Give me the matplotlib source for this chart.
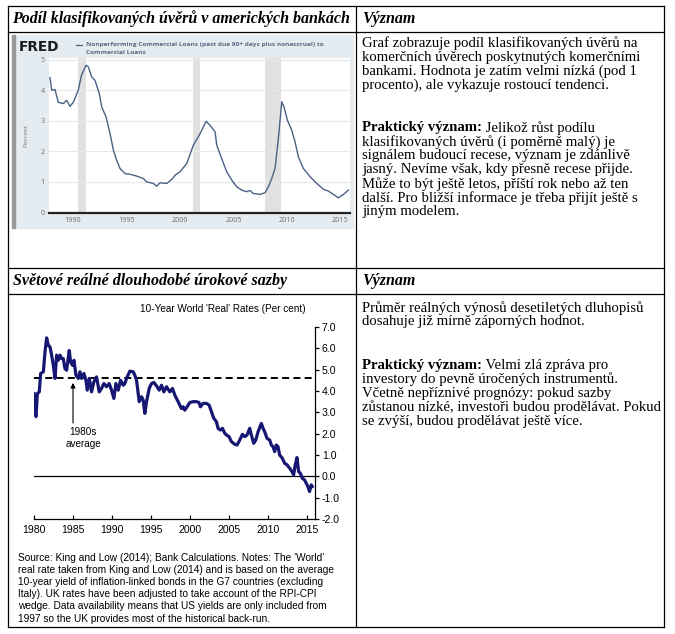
import matplotlib
matplotlib.use("Agg")
import matplotlib.pyplot as plt
from matplotlib.patches import Rectangle

# --- FRED panel: nonperforming commercial loans, percent ---
npl_year = [1987.84, 1988.0, 1988.31, 1988.62, 1989.09, 1989.4, 1989.71, 1990.02,
            1990.49, 1990.8, 1991.21, 1991.43, 1991.74, 1992.05, 1992.45, 1992.68,
            1993.08, 1993.46, 1993.77, 1994.08, 1994.39, 1994.86, 1995.33, 1995.95,
            1996.57, 1996.89, 1997.51, 1997.82, 1998.13, 1998.76, 1999.23, 1999.54,
            2000.0, 2000.63, 2001.25, 2001.88, 2002.44, 2002.81, 2003.28, 2003.44,
            2003.9, 2004.37, 2004.84, 2005.31, 2005.78, 2006.24, 2006.55, 2006.86,
            2007.49, 2007.96, 2008.27, 2008.58, 2008.89, 2009.2, 2009.52, 2009.73,
            2010.04, 2010.45, 2010.76, 2011.07, 2011.54, 2012.17, 2012.79, 2013.42,
            2013.88, 2014.35, 2014.81, 2015.28, 2015.75]
npl_pct = [4.41, 4.0, 4.02, 3.6, 3.56, 3.67, 3.47, 3.6,
           4.0, 4.5, 4.81, 4.76, 4.43, 4.32, 3.89, 3.45,
           3.13, 2.58, 2.04, 1.71, 1.44, 1.27, 1.25, 1.19,
           1.11, 1.0, 0.95, 0.86, 0.97, 0.95, 1.08, 1.22,
           1.33, 1.6, 2.2, 2.58, 2.98, 2.85, 2.64, 2.2,
           1.76, 1.33, 1.06, 0.84, 0.73, 0.68, 0.72, 0.62,
           0.59, 0.65, 0.84, 1.11, 1.44, 2.42, 3.62, 3.45,
           3.02, 2.69, 2.31, 1.82, 1.44, 1.17, 0.95, 0.76,
           0.70, 0.59, 0.48, 0.59, 0.73]
recessions = [(1990.5, 1991.2), (2001.2, 2001.85), (2007.95, 2009.45)]
npl_xticks = [1990, 1995, 2000, 2005, 2010, 2015]
npl_yticks = [0, 1, 2, 3, 4, 5]

# --- 10-year world real rates, per cent ---
rate_year = [1980.0, 1980.13, 1980.26, 1980.43, 1980.68, 1980.85, 1981.2, 1981.41,
             1981.62, 1981.84, 1982.05, 1982.26, 1982.48, 1982.69, 1982.9, 1983.11,
             1983.33, 1983.54, 1983.75, 1983.97, 1984.18, 1984.52, 1984.69, 1984.95,
             1985.12, 1985.38, 1985.68, 1985.89, 1986.1, 1986.4, 1986.66, 1986.83,
             1987.09, 1987.38, 1987.68, 1988.02, 1988.36, 1988.66, 1988.96, 1989.3,
             1989.64, 1989.94, 1990.24, 1990.5, 1990.8, 1991.1, 1991.44, 1991.65,
             1991.87, 1992.29, 1992.72, 1992.93, 1993.15, 1993.49, 1993.79, 1994.0,
             1994.21, 1994.43, 1994.77, 1995.07, 1995.37, 1995.71, 1996.05, 1996.35,
             1996.65, 1996.99, 1997.42, 1997.76, 1998.05, 1998.48, 1998.9, 1999.12,
             1999.33, 1999.63, 1999.97, 2000.4, 2000.83, 2001.17, 2001.34, 2001.68,
             2002.11, 2002.45, 2002.75, 2003.05, 2003.39, 2003.6, 2003.9, 2004.16,
             2004.46, 2004.67, 2005.01, 2005.31, 2005.74, 2006.04, 2006.38, 2006.72,
             2007.02, 2007.32, 2007.66, 2007.87, 2008.17, 2008.43, 2008.73, 2009.15,
             2009.37, 2009.58, 2009.88, 2010.22, 2010.43, 2010.65, 2010.86, 2011.07,
             2011.29, 2011.5, 2011.84, 2012.14, 2012.44, 2012.78, 2013.08, 2013.29,
             2013.5, 2013.72, 2013.93, 2014.14, 2014.4, 2014.7, 2014.91, 2015.12,
             2015.33, 2015.55, 2015.67]
rate_pct = [3.88, 3.03, 2.8, 3.88, 3.96, 4.82, 4.9, 5.83,
            6.49, 6.14, 6.07, 5.68, 5.2, 4.59, 5.68, 5.44,
            5.68, 5.52, 5.52, 5.05, 4.97, 5.9, 5.36, 5.2,
            5.44, 4.74, 4.59, 4.9, 4.59, 4.82, 4.5, 4.04,
            4.59, 3.96, 4.43, 4.66, 3.96, 4.12, 4.35, 4.2,
            4.35, 4.04, 3.65, 4.35, 4.04, 4.5, 4.27, 4.35,
            4.59, 4.93, 4.9, 4.74, 4.5, 3.5, 3.73, 3.57,
            2.95, 3.5, 4.12, 4.35, 4.4, 4.24, 4.04, 4.27,
            3.96, 4.2, 3.96, 4.12, 3.81, 3.5, 3.18, 3.26,
            3.1, 3.26, 3.46, 3.5, 3.5, 3.46, 3.26, 3.42,
            3.42, 3.34, 3.03, 2.72, 2.56, 2.25, 2.17, 2.25,
            2.02, 1.94, 1.86, 1.63, 1.5, 1.47, 1.7, 1.97,
            1.86, 1.94, 2.25, 1.94, 1.55, 1.7, 2.09, 2.48,
            2.25, 2.09, 1.78, 1.7, 1.47, 1.39, 1.16, 1.47,
            1.39, 1.0, 0.85, 0.61, 0.54, 0.38, 0.22, 0.07,
            0.54, 0.88, 0.22, 0.15, -0.09, -0.17, -0.32, -0.48,
            -0.71, -0.4, -0.48]
avg_1980s = 4.6
rate_xticks = [1980, 1985, 1990, 1995, 2000, 2005, 2010, 2015]
rate_yticks = [-2, -1, 0, 1, 2, 3, 4, 5, 6, 7]

# --- table texts ---
head_left_1 = "Podíl klasifikovaných úvěrů v amerických bankách"
head_left_2 = "Světové reálné dlouhodobé úrokové sazby"
head_right = "Význam"
bold_prefix = "Praktický význam:"
text_1a = ["Graf zobrazuje podíl klasifikovaných úvěrů na",
           "komerčních úvěrech poskytnutých komerčními",
           "bankami. Hodnota je zatím velmi nízká (pod 1",
           "procento), ale vykazuje rostoucí tendenci."]
text_1b = [" Jelikož růst podílu",
           "klasifikovaných úvěrů (i poměrně malý) je",
           "signálem budoucí recese, význam je zdánlivě",
           "jasný. Nevíme však, kdy přesně recese přijde.",
           "Může to být ještě letos, příští rok nebo až ten",
           "další. Pro bližší informace je třeba přijít ještě s",
           "jiným modelem."]
text_2a = ["Průměr reálných výnosů desetiletých dluhopisů",
           "dosahuje již mírně záporných hodnot."]
text_2b = [" Velmi zlá zpráva pro",
           "investory do pevně úročených instrumentů.",
           "Včetně nepříznivé prognózy: pokud sazby",
           "zůstanou nízké, investoři budou prodělávat. Pokud",
           "se zvýší, budou prodělávat ještě více."]
note_lines = ["Source: King and Low (2014); Bank Calculations. Notes: The 'World'",
              "real rate taken from King and Low (2014) and is based on the average",
              "10-year yield of inflation-linked bonds in the G7 countries (excluding",
              "Italy). UK rates have been adjusted to take account of the RPI-CPI",
              "wedge. Data availability means that US yields are only included from",
              "1997 so the UK provides most of the historical back-run."]

W, H = 675, 634
SERIF = "Liberation Serif"
SANS = "Liberation Sans"

fig = plt.figure(figsize=(W / 100, H / 100), dpi=100)
fig.patch.set_facecolor("white")

# page layer in pixel coordinates
page = fig.add_axes([0, 0, 1, 1], zorder=0)
page.set_xlim(0, W)
page.set_ylim(H, 0)
page.axis("off")

# table grid
x0, xm, x1 = 8, 356, 664
for y in [6, 32, 268, 294, 627]:
    page.plot([x0, x1], [y, y], color="black", lw=0.9, solid_capstyle="projecting")
for x in [x0, xm, x1]:
    page.plot([x, x], [6, 627], color="black", lw=0.9, solid_capstyle="projecting")

hdr = dict(family=SERIF, fontsize=11.5, weight="bold", style="italic", va="center")
page.text(12, 19, head_left_1, **hdr)
page.text(362, 19, head_right, **hdr)
page.text(13, 281, head_left_2, **hdr)
page.text(362, 281, head_right, **hdr)

renderer = fig.canvas.get_renderer()
body = dict(family=SERIF, fontsize=10.6, va="center")


def write_block(lines_a, lines_b, y_a, y_b, step=14):
    for i, line in enumerate(lines_a):
        page.text(362, y_a + step * i, line, **body)
    t = page.text(362, y_b, bold_prefix, weight="bold", **body)
    w = t.get_window_extent(renderer).width
    page.text(362 + w, y_b, lines_b[0], **body)
    for i, line in enumerate(lines_b[1:], start=1):
        page.text(362, y_b + step * i, line, **body)


write_block(text_1a, text_1b, 43, 128)
write_block(text_2a, text_2b, 308, 365)

# --- FRED panel ---
page.add_patch(Rectangle((12, 35), 341, 193, color="#e4ebf1", zorder=1))
page.add_patch(Rectangle((12, 35), 2.5, 193, color="#9a9a9a", zorder=2))
page.text(19, 47, "FRED", family="DejaVu Sans", weight="bold", fontsize=9.8,
          color="#1b1b1b", va="center", zorder=3)
page.plot([76, 82], [45, 45], color="#4a6284", lw=0.9, zorder=3)
leg = dict(family="Open Sans", weight="bold", fontsize=4.65, color="#5b6b82",
           va="center", zorder=3)
page.text(86, 44.5, "Nonperforming Commercial Loans (past due 90+ days plus nonaccrual) to", **leg)
page.text(86, 52, "Commercial Loans", **leg)

ax1 = fig.add_axes([49 / W, 1 - 212.5 / H, 301 / W, (212.5 - 58) / H], zorder=2)
ax1.set_facecolor("white")
for a, b in recessions:
    ax1.axvspan(a, b, color="#e1e1e1", lw=0, zorder=0)
ax1.plot(npl_year, npl_pct, color="#4a6284", lw=1.0, zorder=3)
ax1.set_xlim(1987.75, 2015.9)
ax1.set_ylim(0, 5.05)
ax1.set_xticks(npl_xticks)
ax1.set_yticks(npl_yticks)
ax1.yaxis.grid(True, color="#e8e8e8", lw=0.8)
ax1.set_axisbelow(True)
for s in ["top", "right", "left"]:
    ax1.spines[s].set_visible(False)
ax1.spines["bottom"].set_color("#222222")
ax1.spines["bottom"].set_linewidth(1.6)
ax1.spines["bottom"].set_zorder(4)
ax1.tick_params(length=0, labelsize=5.2, labelcolor="#6d6d6d", pad=3)
for lab in ax1.get_xticklabels() + ax1.get_yticklabels():
    lab.set_family("Open Sans")
ax1.set_ylabel("Percent", fontsize=4.6, color="#7a7a7a", family="Open Sans", labelpad=9)

# --- world real rates panel ---
page.text(223, 309, "10-Year World 'Real' Rates (Per cent)", family=SANS, fontsize=7.2,
          ha="center", va="center")
ax2 = fig.add_axes([34 / W, 1 - 519 / H, 281 / W, 192 / H], zorder=2)
ax2.patch.set_alpha(0)
ax2.axhline(0, color="black", lw=0.9, zorder=2)
ax2.axhline(avg_1980s, color="black", lw=1.4, ls=(0, (3.6, 2.2)), zorder=2)
ax2.plot(rate_year, rate_pct, color="#161673", lw=2.3, zorder=3,
         solid_joinstyle="round")
ax2.annotate("", xy=(1985, 4.38), xytext=(1985, 2.5),
             arrowprops=dict(arrowstyle="-|>", color="black", lw=0.8,
                             mutation_scale=7, shrinkA=0, shrinkB=0))
ax2.text(1986.3, 1.8, "1980s\naverage", family=SANS, fontsize=7.2, ha="center",
         va="center", linespacing=1.15)
ax2.set_xlim(1980, 2016.03)
ax2.set_ylim(-2, 7)
ax2.set_xticks(rate_xticks)
ax2.set_yticks(rate_yticks)
ax2.set_yticklabels([f"{v:.1f}" for v in rate_yticks])
ax2.yaxis.tick_right()
for s in ["top", "left"]:
    ax2.spines[s].set_visible(False)
for s in ["right", "bottom"]:
    ax2.spines[s].set_linewidth(0.9)
ax2.tick_params(axis="y", direction="out", length=3, width=0.9, labelsize=7.6, pad=2)
ax2.tick_params(axis="x", direction="in", length=3, width=0.9, labelsize=7.6, pad=4)
for lab in ax2.get_xticklabels() + ax2.get_yticklabels():
    lab.set_family(SANS)

for i, line in enumerate(note_lines):
    page.text(18, 558 + 12.1 * i, line, family=SANS, fontsize=7.3, va="center")

fig.savefig("out.png", dpi=100)
